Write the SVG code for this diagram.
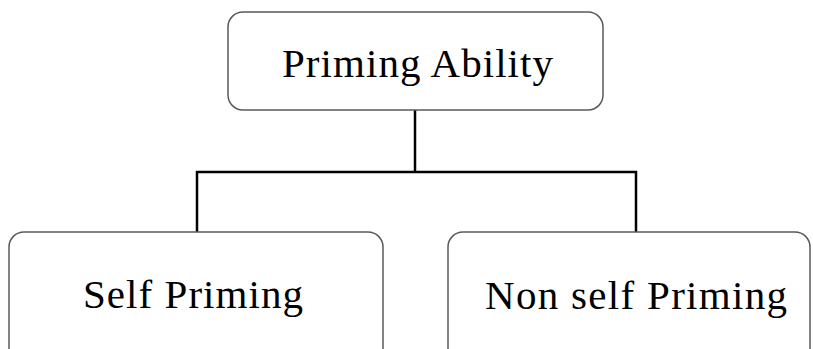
<svg xmlns="http://www.w3.org/2000/svg" width="813" height="349" viewBox="0 0 813 349">
  <style>
    .box { fill: #ffffff; stroke: #5a5a5a; stroke-width: 1.5; }
    .label { font-family: "Liberation Serif", "DejaVu Serif", serif; font-size: 41px; fill: #000000; }
    .link { fill: none; stroke: #000000; stroke-width: 2.5; stroke-linecap: square; }
  </style>
  <rect width="813" height="349" fill="#ffffff"/>

  <g id="connectors">
    <path class="link" d="M415 110 V172 M197 172 H636 M197 172 V232 M636 172 V232"/>
  </g>

  <g id="priming-ability">
    <rect class="box" x="228" y="12" width="375" height="98" rx="15"/>
    <text class="label" x="282" y="77" textLength="271" lengthAdjust="spacing">Priming Ability</text>
  </g>

  <g id="self-priming">
    <rect class="box" x="9" y="232" width="374" height="140" rx="15"/>
    <text class="label" x="83" y="308" textLength="220" lengthAdjust="spacing">Self Priming</text>
  </g>

  <g id="non-self-priming">
    <rect class="box" x="448" y="232" width="362" height="140" rx="15"/>
    <text class="label" x="485" y="309" textLength="302" lengthAdjust="spacing">Non self Priming</text>
  </g>
</svg>
